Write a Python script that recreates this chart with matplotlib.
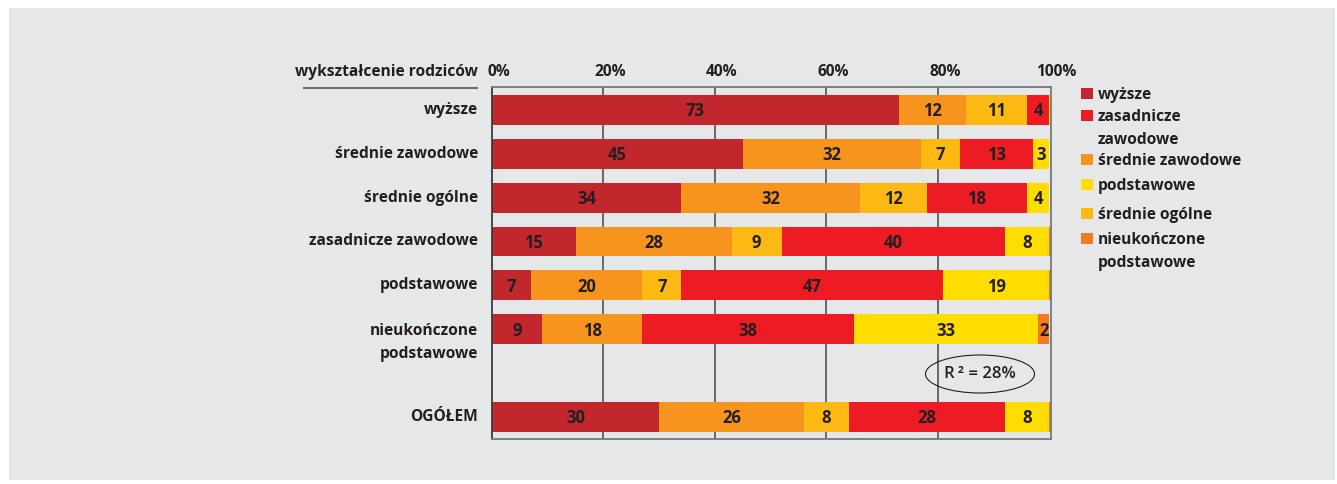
import numpy as np
import matplotlib
matplotlib.use('Agg')
import matplotlib.pyplot as plt
import matplotlib.transforms as mtransforms
from matplotlib.patches import Rectangle, Ellipse
from matplotlib.lines import Line2D

plt.rcParams['font.family'] = ['Open Sans', 'DejaVu Sans']

# rows of the chart (parents' education), top to bottom
rows = ['wyższe', 'średnie zawodowe', 'średnie ogólne', 'zasadnicze zawodowe',
        'podstawowe', 'nieukończone\npodstawowe', 'OGÓŁEM']
row_pos = [0, 1, 2, 3, 4, 5, 7]

# share of each category in every row (%)
wyzsze = [73, 45, 34, 15, 7, 9, 30]
srednie_zaw = [12, 32, 32, 28, 20, 18, 26]
srednie_og = [11, 7, 12, 9, 7, 0, 8]
zasadnicze = [4, 13, 18, 40, 47, 38, 28]
podstawowe = [0.3, 3, 4, 8, 19, 33, 8]
nieukonczone = [0, 0, 0, 0.3, 0.3, 2, 0.3]

series = [wyzsze, srednie_zaw, srednie_og, zasadnicze, podstawowe, nieukonczone]
colors = ['#c1272d', '#f7941d', '#fdb913', '#ed1c24', '#ffdd00', '#f47920']

legend_labels = ['wyższe', 'zasadnicze\nzawodowe', 'średnie zawodowe', 'podstawowe',
                 'średnie ogólne', 'nieukończone\npodstawowe']
legend_colors = ['#c1272d', '#ed1c24', '#f7941d', '#ffdd00', '#fdb913', '#f47920']
legend_y = [93, 115, 159, 184, 213, 238]

ticks = [0, 20, 40, 60, 80, 100]

TXT = '#231f20'
FS = 11.2
W, H = 1337, 484

def fx(x):
    return x / W

def fy(y):
    return 1 - y / H

fig = plt.figure(figsize=(W / 100, H / 100), dpi=100)
fig.patch.set_facecolor('white')
fig.add_artist(Rectangle((fx(9), fy(480)), fx(1335 - 9), (480 - 8) / H,
                         transform=fig.transFigure, facecolor='#e6e7e8',
                         edgecolor='none', zorder=0))

ax = fig.add_axes([fx(492), fy(439), fx(1051 - 492), (439 - 87) / H])
ax.set_facecolor('none')
ax.set_xlim(0, 100.3)
ax.set_ylim(7.5, -0.52)
ax.set_xticks([])
ax.set_yticks([])
for s in ax.spines.values():
    s.set_color('#77787b')
    s.set_linewidth(1.3)
ax.spines['left'].set_color('#3a3a3c')

for t in ticks[1:-1]:
    ax.axvline(t, color='#5d5e60', lw=1.3, zorder=1)

left = np.zeros(len(rows))
for vals, c in zip(series, colors):
    vals = np.array(vals, dtype=float)
    ax.barh(row_pos, vals, left=left, height=0.68, color=c, edgecolor='none', zorder=2)
    for y, l, v in zip(row_pos, left, vals):
        if v >= 1:
            ax.text(l + v / 2, y + 0.03, f'{v:g}', ha='center', va='center',
                    fontsize=12, fontweight='bold', color=TXT, zorder=3)
    left += vals

# percentage labels above the plot, shifted a little to the right
lab_tr = mtransforms.offset_copy(ax.get_xaxis_transform(), fig=fig, x=7, y=0, units='dots')
for t in ticks:
    ax.text(t, 1 + 15 / 352, f'{t}%', transform=lab_tr, ha='center', va='center',
            fontsize=FS, fontweight='bold', color=TXT)

# row labels
row_tr = mtransforms.blended_transform_factory(ax.transAxes, ax.transData)
for y, name in zip(row_pos, rows):
    if '\n' in name:
        ax.text(-0.025, y - 0.14, name, transform=row_tr, ha='right', va='top',
                fontsize=FS, fontweight='bold', color=TXT, linespacing=1.6)
    else:
        ax.text(-0.025, y, name, transform=row_tr, ha='right', va='center',
                fontsize=FS, fontweight='bold', color=TXT)

fig.text(fx(478), fy(72), 'wykształcenie rodziców', ha='right', va='center',
         fontsize=FS, fontweight='bold', color=TXT)
fig.add_artist(Line2D([fx(304), fx(477)], [fy(88), fy(88)], transform=fig.transFigure,
                      color='#6d6e71', lw=1.5))

# legend
for lab, c, y in zip(legend_labels, legend_colors, legend_y):
    fig.add_artist(Rectangle((fx(1081), fy(y + 5.5)), fx(12), 11 / H,
                             transform=fig.transFigure, facecolor=c, edgecolor='none'))
    fig.text(fx(1098), fy(y - 6), lab, ha='left', va='top', fontsize=FS,
             fontweight='bold', color=TXT, linespacing=1.6)

# R^2 note
fig.add_artist(Ellipse((fx(980), fy(374)), fx(109), 38 / H, transform=fig.transFigure,
                       facecolor='none', edgecolor=TXT, lw=0.8))
fig.text(fx(980), fy(374), 'R\u2009² = 28%', ha='center', va='center', fontsize=12,
         fontweight='semibold', color=TXT)

fig.savefig('out.png', dpi=100, facecolor=fig.get_facecolor())
